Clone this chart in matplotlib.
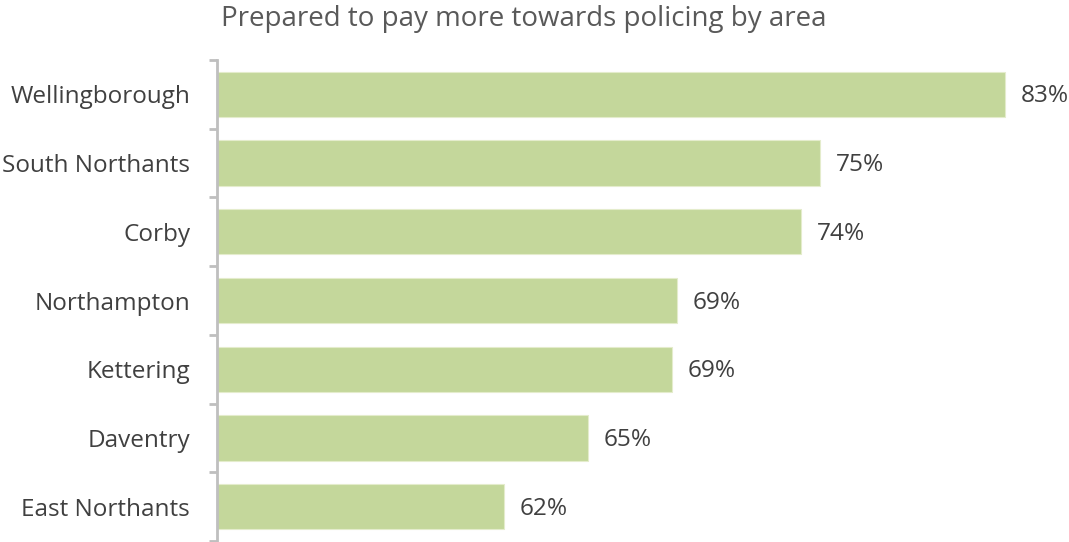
import matplotlib
matplotlib.use('Agg')
import matplotlib.pyplot as plt

plt.rcParams['font.family'] = ['Open Sans', 'DejaVu Sans']

# 数据（从上到下）
areas = ['Wellingborough', 'South Northants', 'Corby', 'Northampton',
         'Kettering', 'Daventry', 'East Northants']
values = [82.9, 75.2, 74.4, 69.2, 69.0, 65.5, 62.0]
value_labels = ['83%', '75%', '74%', '69%', '69%', '65%', '62%']

fig = plt.figure(figsize=(10.69, 5.42), dpi=100)
W, H = 1069, 542
x0, x1 = 216.5, 1040
y_top, y_bot = 60, 541
ax = fig.add_axes([x0 / W, 1 - y_bot / H, (x1 - x0) / W, (y_bot - y_top) / H])

pos = list(range(len(areas)))
ax.barh(pos, values, height=0.66, color='#c4d79b', edgecolor='#e4eccc',
        linewidth=0.8, left=0)
ax.set_xlim(50, 50 + (x1 - x0) / 23.96)
ax.set_ylim(len(areas) - 0.5, -0.5)

# 数值标注
for p, v, lab in zip(pos, values, value_labels):
    ax.annotate(lab, (v, p), xytext=(11.5, -1.5), textcoords='offset points',
                ha='left', va='center', fontsize=17.6, color='#404040')

# 坐标轴样式
for s in ['top', 'right', 'bottom']:
    ax.spines[s].set_visible(False)
ax.spines['left'].set_color('#bfbfbf')
ax.spines['left'].set_linewidth(2)
ax.set_xticks([])
ax.set_yticks(pos)
ax.set_yticklabels(areas, fontsize=17.5, color='#404040')
ax.tick_params(axis='y', which='major', length=0, pad=19)
ax.set_yticks([p - 0.5 for p in pos] + [len(areas) - 0.5], minor=True)
ax.tick_params(axis='y', which='minor', length=6, width=2, color='#bfbfbf')

fig.text(524 / W, 1 - 19 / H, 'Prepared to pay more towards policing by area',
         ha='center', va='center', fontsize=20, color='#595959')

plt.savefig('out.png', dpi=100)
plt.close()
